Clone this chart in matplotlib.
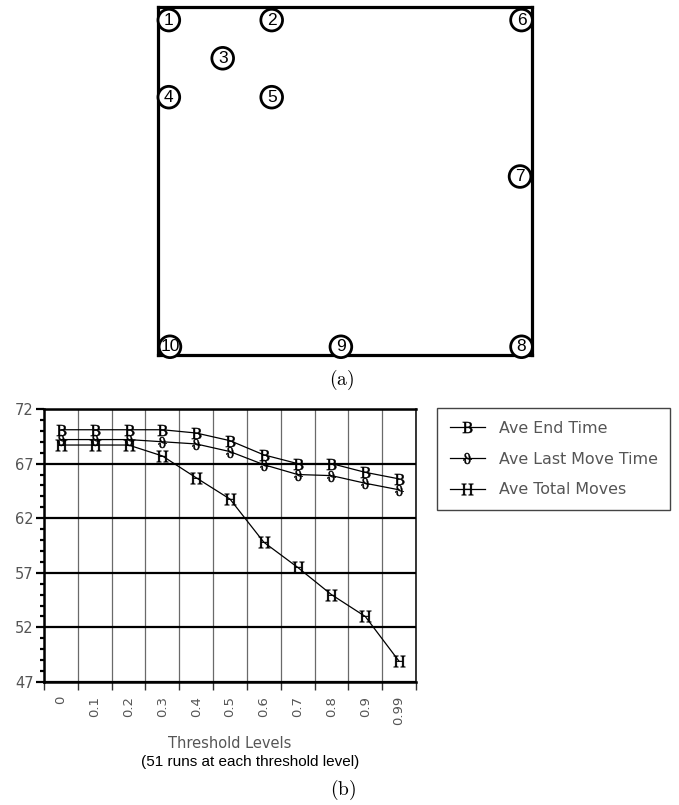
import matplotlib
matplotlib.use("Agg")
import matplotlib.pyplot as plt
from matplotlib.patches import Circle
import numpy as np

plt.rcParams['mathtext.fontset'] = 'stix'

# ---- (a) room layout: room is 100 units wide, 93 deep, y measured downward
room_w, room_h = 100.0, 93.0
node_ids = [1, 2, 3, 4, 5, 6, 7, 8, 9, 10]
node_x = [2.9, 30.4, 17.3, 2.9, 30.4, 97.2, 96.8, 97.2, 48.9, 3.2]
node_y = [3.5, 3.5, 13.7, 24.1, 24.1, 3.5, 45.3, 90.8, 90.8, 90.8]
node_r = 2.9

# ---- (b) results per threshold level
thresholds = ['0', '0.1', '0.2', '0.3', '0.4', '0.5', '0.6', '0.7', '0.8', '0.9', '0.99']
ave_end_time = [70.1, 70.1, 70.1, 70.1, 69.8, 69.1, 67.8, 67.0, 67.0, 66.2, 65.6]
ave_last_move_time = [69.2, 69.2, 69.2, 69.0, 68.8, 68.1, 66.9, 66.0, 65.9, 65.2, 64.6]
ave_total_moves = [68.7, 68.7, 68.7, 67.7, 65.7, 63.75, 59.8, 57.5, 55.0, 53.0, 48.9]
series_labels = ['Ave End Time', 'Ave Last Move Time', 'Ave Total Moves']

W, H = 679, 805
fig = plt.figure(figsize=(W / 100, H / 100), dpi=100)
fig.patch.set_facecolor('white')


def frac_box(left, top, right, bottom):
    return [left / W, 1 - bottom / H, (right - left) / W, (bottom - top) / H]


gray_txt = '#555555'

# ---------------- panel (a)
axa = fig.add_axes(frac_box(158, 7, 532, 355))
axa.set_xlim(0, room_w)
axa.set_ylim(room_h, 0)
axa.set_xticks([])
axa.set_yticks([])
for s in axa.spines.values():
    s.set_linewidth(2.3)
    s.set_color('black')
for nid, nx, ny in zip(node_ids, node_x, node_y):
    axa.add_patch(Circle((nx, ny), node_r, facecolor='white', edgecolor='black',
                         lw=2.0, clip_on=False, zorder=5))
    axa.text(nx, ny, str(nid), ha='center', va='center', fontsize=12.5,
             family='Liberation Sans', zorder=6, clip_on=False)
fig.text(342 / W, 1 - 380 / H, r'$\mathrm{(a)}$', ha='center', va='center',
         fontsize=14, math_fontfamily='cm')

# ---------------- panel (b)
axb = fig.add_axes(frac_box(44, 409, 416, 682))
n = len(thresholds)
xc = np.arange(n) + 0.5
axb.set_xlim(0, n)
axb.set_ylim(47, 72)

# horizontal grid (black) and vertical grid (gray)
axb.set_yticks(np.arange(47, 73, 5))
axb.set_yticks(np.arange(47, 73, 1), minor=True)
axb.yaxis.grid(True, which='major', color='black', lw=1.6)
axb.set_xticks(np.arange(0, n + 1))
axb.set_xticklabels([])
axb.set_xticks(xc, minor=True)
axb.set_xticklabels(thresholds, minor=True, rotation=90)
axb.xaxis.grid(True, which='major', color='#6a6a6a', lw=0.9)
axb.set_axisbelow(True)

axb.tick_params(axis='y', which='major', direction='out', length=5.5, width=1.6,
                labelsize=10.5, labelcolor=gray_txt, pad=2)
axb.tick_params(axis='y', which='minor', direction='out', length=3, width=1.6)
axb.tick_params(axis='x', which='major', direction='out', length=6, width=1.0,
                color='#333333')
axb.tick_params(axis='x', which='minor', length=0, pad=10, labelsize=9.5,
                labelcolor=gray_txt)
for side in ['left', 'top', 'bottom']:
    axb.spines[side].set_linewidth(1.8)
axb.spines['right'].set_linewidth(1.1)

markers = [r'$\mathrm{B}$', r'$\mathrm{\vartheta}$', r'$\mathrm{H}$']
msizes = [8, 8, 8.5]
handles = []
for vals, mk, ms, lab in zip([ave_end_time, ave_last_move_time, ave_total_moves],
                             markers, msizes, series_labels):
    h, = axb.plot(xc, vals, color='black', lw=0.9, marker=mk, markersize=ms,
                  markeredgewidth=0.3, label=lab, zorder=4, clip_on=False)
    handles.append(h)

leg = fig.legend(handles=handles, loc='upper left',
                 bbox_to_anchor=(437 / W, 1 - 408 / H), borderaxespad=0,
                 frameon=True, fancybox=False, edgecolor='#444444',
                 framealpha=1, borderpad=0.8, labelspacing=1.0,
                 handlelength=2.2, handletextpad=0.9, numpoints=1,
                 prop={'size': 11.4, 'family': 'DejaVu Sans'},
                 labelcolor=gray_txt)
leg.get_frame().set_linewidth(1.0)

fig.text(230 / W, 1 - 743 / H, 'Threshold Levels', ha='center', va='center',
         fontsize=10.5, color=gray_txt, family='DejaVu Sans')
fig.text(250 / W, 1 - 762 / H, '(51 runs at each threshold level)', ha='center',
         va='center', fontsize=11, color='black', family='Liberation Sans')
fig.text(343 / W, 1 - 790 / H, r'$\mathrm{(b)}$', ha='center', va='center',
         fontsize=14, math_fontfamily='cm')

fig.savefig('out.png', dpi=100)
